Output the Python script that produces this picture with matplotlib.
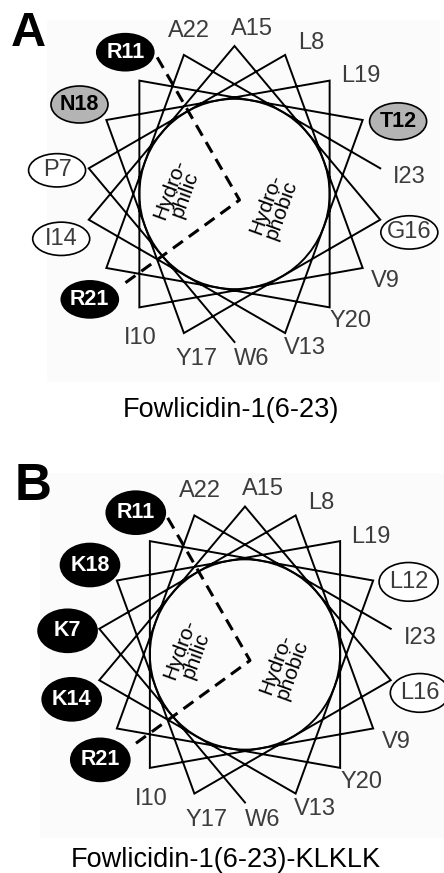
import matplotlib.pyplot as plt
from matplotlib.patches import Ellipse, Circle, Rectangle
import numpy as np

plt.rcParams['font.family'] = ['Liberation Sans', 'DejaVu Sans']

# residues in sequence order (6-23), wheel step is 100 deg
residues_a = ["W6", "P7", "L8", "V9", "I10", "R11", "T12", "V13", "I14",
              "A15", "G16", "Y17", "N18", "L19", "Y20", "R21", "A22", "I23"]
kinds_a = ["plain", "white", "plain", "plain", "plain", "black", "gray", "plain", "white",
           "plain", "white", "plain", "gray", "plain", "plain", "black", "plain", "plain"]

residues_b = ["W6", "K7", "L8", "V9", "I10", "R11", "L12", "V13", "K14",
              "A15", "L16", "Y17", "K18", "L19", "Y20", "R21", "A22", "I23"]
kinds_b = ["plain", "black", "plain", "plain", "plain", "black", "white", "plain", "black",
           "plain", "white", "plain", "black", "plain", "plain", "black", "plain", "plain"]

caption_a = "Fowlicidin-1(6-23)"
caption_b = "Fowlicidin-1(6-23)-KLKLK"

W, H = 444, 873
R = 148.0
txt_col = "#3c3c3c"


def draw_wheel(ax, cx, cy, residues, kinds, ell_w, ell_h):
    k = np.arange(len(residues))
    theta = np.deg2rad(-90 - 100 * k)
    xs = cx + R * np.cos(theta)
    ys = cy + R * np.sin(theta)
    ax.plot(xs, ys, color="black", lw=1.4, solid_joinstyle="miter", zorder=2)
    ax.add_patch(Circle((cx, cy), R * np.cos(np.deg2rad(50)), fill=False,
                        ec="black", lw=1.4, zorder=2))

    # hydrophilic sector boundary
    ax0, ay0 = cx + 5, cy - 6
    a1, a2 = np.deg2rad(119.5), np.deg2rad(219)
    ax.plot([cx + 157 * np.cos(a1), ax0, cx + 147 * np.cos(a2)],
            [cy + 157 * np.sin(a1), ay0, cy + 147 * np.sin(a2)],
            color="black", lw=2.2, dashes=(4, 2.4), zorder=3)

    ax.text(cx - 57, cy + 2, "Hydro-\nphilic", rotation=70, ha="center", va="center",
            fontsize=15, linespacing=0.85, color="black", zorder=4)
    ax.text(cx + 39, cy - 13, "Hydro-\nphobic", rotation=70, ha="center", va="center",
            fontsize=15, linespacing=0.85, color="black", zorder=4)

    for name, kind, th in zip(residues, kinds, np.rad2deg(theta)):
        lab = th - 7 * np.cos(np.deg2rad(th - 60))
        if kind == "plain":
            r = 166 + 10 * abs(np.cos(np.deg2rad(th)))
        else:
            r = 179
        lx = cx + r * np.cos(np.deg2rad(lab))
        ly = cy + r * np.sin(np.deg2rad(lab))
        if kind == "plain":
            ax.text(lx, ly, name, ha="center", va="center", fontsize=17,
                    color=txt_col, zorder=6)
        elif kind == "white":
            ax.add_patch(Ellipse((lx, ly), ell_w, ell_h * 0.9, fc="white", ec="black",
                                 lw=1.2, zorder=5))
            ax.text(lx, ly, name, ha="center", va="center", fontsize=17,
                    color=txt_col, zorder=6)
        else:
            fc = "black" if kind == "black" else "#b4b4b4"
            tc = "white" if kind == "black" else "black"
            ax.add_patch(Ellipse((lx, ly), ell_w, ell_h, fc=fc, ec="black",
                                 lw=1.2, zorder=5))
            ax.text(lx, ly, name, ha="center", va="center", fontsize=15.5,
                    fontweight="bold", color=tc, zorder=6)


fig = plt.figure(figsize=(W / 100, H / 100), dpi=100)
ax = fig.add_axes([0, 0, 1, 1])
ax.set_xlim(0, W)
ax.set_ylim(0, H)
ax.axis("off")

# faint panel backgrounds
ax.add_patch(Rectangle((47, H - 382), 393, 362, fc="#fbfbfb", ec="none", zorder=0))
ax.add_patch(Rectangle((40, H - 838), 404, 365, fc="#fbfbfb", ec="none", zorder=0))

draw_wheel(ax, 234.5, H - 194, residues_a, kinds_a, 57, 37)
draw_wheel(ax, 245, H - 654.5, residues_b, kinds_b, 59, 43)

ax.text(11, H - 34, "A", fontsize=35, fontweight="bold", ha="left", va="center")
ax.text(15, H - 486, "B", fontsize=37, fontweight="bold", ha="left", va="center")

ax.text(231, H - 410, caption_a, fontsize=19.5, ha="center", va="center", color="black")
ax.text(226, H - 860, caption_b, fontsize=19.5, ha="center", va="center", color="black")

fig.savefig("out.png", dpi=100)
